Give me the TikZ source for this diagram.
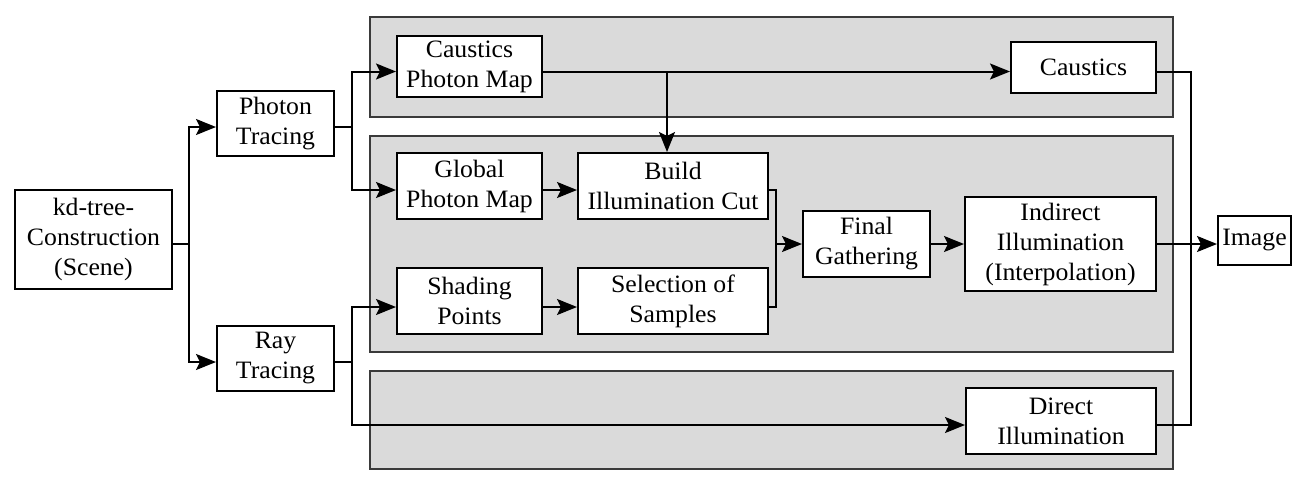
\documentclass[tikz,border=0pt]{standalone}
\usepackage{fontspec}
\setmainfont{Liberation Serif}[FakeStretch=1.03]
\usetikzlibrary{arrows.meta,calc}
\definecolor{panelgray}{HTML}{DADADA}
\definecolor{paneledge}{HTML}{3A3A3A}
\begin{document}
\begin{tikzpicture}[x=1pt,y=-1pt,
  panel/.style={fill=panelgray,draw=paneledge,line width=1.1pt},
  box/.style={draw=black,fill=white,line width=2pt,align=center,inner sep=0pt,
    font=\fontsize{25pt}{30pt}\selectfont},
  conn/.style={draw=black,line width=2pt},
  arr/.style={conn,-{Stealth[length=20pt,width=16pt,inset=4pt]}}]
\useasboundingbox (0,0) rectangle (1300,488);
% panels
\draw[panel] (370,17) rectangle (1173,117);
\draw[panel] (370,136) rectangle (1173,352);
\draw[panel] (370,371) rectangle (1173,469);
% nodes
\node[box,minimum width=157,minimum height=99] (kd) at (93.5,239.5) {kd-tree-\\Construction\\(Scene)};
\node[box,minimum width=117,minimum height=65] (photon) at (275.5,123.5) {Photon\\Tracing};
\node[box,minimum width=117,minimum height=65] (ray) at (275.5,358.5) {Ray\\Tracing};
\node[box,minimum width=145,minimum height=61] (cpm) at (469.5,66.5) {Caustics\\Photon Map};
\node[box,minimum width=145,minimum height=51] (caus) at (1083.5,67.5) {Caustics};
\node[box,minimum width=145,minimum height=66] (gpm) at (469.5,186) {Global\\Photon Map};
\node[box,minimum width=190,minimum height=66] (build) at (673,186) {Build\\Illumination Cut};
\node[box,minimum width=145,minimum height=66] (shade) at (469.5,301) {Shading\\Points};
\node[box,minimum width=190,minimum height=66] (sel) at (673,301) {Selection of\\Samples};
\node[box,minimum width=127,minimum height=66] (final) at (866.5,244) {Final\\Gathering};
\node[box,minimum width=191,minimum height=94] (indir) at (1060.5,244) {Indirect\\Illumination\\(Interpolation)};
\node[box,minimum width=190,minimum height=66] (direct) at (1061,421) {Direct\\Illumination};
\node[box,minimum width=73,minimum height=49] (image) at (1254.5,240.5) {Image};
% junction points
\coordinate (s1) at (189,244);
\coordinate (s2) at (352,127);
\coordinate (s3) at (352,362);
\coordinate (t1) at (667,71.5);
\coordinate (b1) at (776,244);
\coordinate (m1) at (1191,244);
% connectors
\draw[conn] ($(kd.east)+(0,4.5)$) -- (s1);
\draw[arr] (s1) |- ($(photon.west)+(0,3.5)$);
\draw[arr] (s1) |- ($(ray.west)+(0,3.5)$);
\draw[conn] ($(photon.east)+(0,3.5)$) -- (s2);
\draw[arr] (s2) |- ($(cpm.west)+(0,5)$);
\draw[arr] (s2) |- ($(gpm.west)+(0,4)$);
\draw[conn] ($(ray.east)+(0,3.5)$) -- (s3);
\draw[arr] (s3) |- ($(shade.west)+(0,6)$);
\draw[arr] (s3) |- ($(direct.west)+(0,4)$);
\draw[arr] ($(cpm.east)+(0,5)$) -- ($(caus.west)+(0,4)$);
\draw[arr] (t1) -- (t1 |- build.north);
\draw[arr] ($(gpm.east)+(0,4)$) -- ($(build.west)+(0,4)$);
\draw[arr] ($(shade.east)+(0,6)$) -- ($(sel.west)+(0,6)$);
\draw[conn] ($(build.east)+(0,4)$) -| (b1) |- ($(sel.east)+(0,6)$);
\draw[arr] (b1) -- (final.west);
\draw[arr] (final.east) -- (indir.west);
\draw[arr] (indir.east) -- ($(image.west)+(0,3.5)$);
\draw[conn] ($(caus.east)+(0,4)$) -| (m1) |- ($(direct.east)+(0,4)$);
\end{tikzpicture}
\end{document}
